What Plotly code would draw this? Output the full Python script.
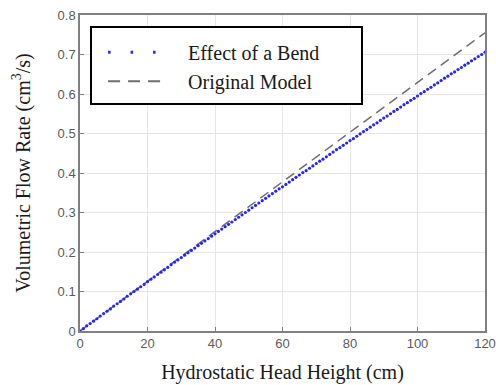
import plotly.graph_objects as go

# Hydrostatic head (cm), 1 cm steps
head_cm = list(range(0, 121))

# Flow rate with the bend in the tube (cm^3/s)
bend_flow = [
    0.000, 0.006, 0.013, 0.019, 0.025, 0.031, 0.038, 0.044, 0.050, 0.056,
    0.063, 0.069, 0.075, 0.081, 0.088, 0.094, 0.100, 0.106, 0.112, 0.118,
    0.125, 0.131, 0.137, 0.143, 0.149, 0.155, 0.161, 0.168, 0.174, 0.180,
    0.186, 0.192, 0.198, 0.204, 0.210, 0.216, 0.222, 0.228, 0.234, 0.240,
    0.246, 0.252, 0.258, 0.264, 0.270, 0.276, 0.282, 0.288, 0.294, 0.300,
    0.306, 0.312, 0.318, 0.324, 0.330, 0.336, 0.342, 0.348, 0.354, 0.360,
    0.365, 0.371, 0.377, 0.383, 0.389, 0.395, 0.401, 0.406, 0.412, 0.418,
    0.424, 0.430, 0.435, 0.441, 0.447, 0.453, 0.459, 0.464, 0.470, 0.476,
    0.482, 0.487, 0.493, 0.499, 0.505, 0.510, 0.516, 0.522, 0.527, 0.533,
    0.539, 0.544, 0.550, 0.556, 0.561, 0.567, 0.573, 0.578, 0.584, 0.589,
    0.595, 0.601, 0.606, 0.612, 0.617, 0.623, 0.628, 0.634, 0.640, 0.645,
    0.651, 0.656, 0.662, 0.667, 0.673, 0.678, 0.684, 0.689, 0.695, 0.700,
    0.706,
]

# Original (straight tube) model: linear in head
model_head = [0, 120]
model_flow = [0.0, 0.755]

x_ticks = [0, 20, 40, 60, 80, 100, 120]
y_ticks = [0, 0.1, 0.2, 0.3, 0.4, 0.5, 0.6, 0.7, 0.8]
y_tick_text = ["0", "0.1", "0.2", "0.3", "0.4", "0.5", "0.6", "0.7", "0.8"]

BLUE = "#2424ff"
GREY = "#6e6e6e"
SERIF = "Liberation Serif, Times New Roman, serif"
NBSP = "\u00a0"

fig = go.Figure()

fig.add_trace(go.Scatter(
    x=model_head, y=model_flow, mode="lines",
    line=dict(color=GREY, width=1.5, dash="10px,6px"),
    showlegend=False, legendgroup="model", hoverinfo="skip",
))
fig.add_trace(go.Scatter(
    x=head_cm, y=bend_flow, mode="markers",
    marker=dict(color=BLUE, size=3.2, line=dict(width=0)),
    showlegend=False, legendgroup="bend",
))

# legend entries
fig.add_trace(go.Scatter(
    x=[None], y=[None], mode="lines", name=NBSP * 4 + "Effect of a Bend",
    line=dict(color=BLUE, width=3, dash="2.5px,20px"), legendgroup="bend",
))
fig.add_trace(go.Scatter(
    x=[None], y=[None], mode="lines", name=NBSP * 4 + "Original Model",
    line=dict(color=GREY, width=2, dash="12px,8px"), legendgroup="model",
))

axis_common = dict(
    showline=True, linecolor="#808080", linewidth=1.5, mirror=True,
    showgrid=True, gridcolor="#e6e6e6", gridwidth=1,
    ticks="inside", ticklen=4, tickcolor="#808080", tickwidth=1,
    zeroline=False, automargin=False,
    tickfont=dict(family="Liberation Sans, Arial, sans-serif", size=13, color="#5a5a5a"),
    title_font=dict(family=SERIF, size=20, color="#1a1a1a"),
)

fig.update_xaxes(
    range=[0, 120], tickvals=x_ticks, ticktext=[str(v) for v in x_ticks],
    title_text="Hydrostatic Head Height (cm)", title_standoff=15,
    **axis_common,
)
fig.update_yaxes(
    range=[0, 0.8], tickvals=y_ticks, ticktext=y_tick_text,
    title_text="Volumetric Flow Rate (cm<sup>3</sup>/s)", title_standoff=22,
    **axis_common,
)

# legend frame
fig.add_shape(
    type="rect", xref="paper", yref="paper",
    x0=(91 - 80) / 405, x1=(362 - 80) / 405,
    y0=(331 - 104) / 316, y1=(331 - 27) / 316,
    line=dict(color="black", width=2), fillcolor="white", layer="above",
)

fig.update_layout(
    width=496, height=385,
    margin=dict(l=80, r=11, t=15, b=54),
    paper_bgcolor="white", plot_bgcolor="white",
    legend=dict(
        x=0.057, y=0.944, xanchor="left", yanchor="top",
        bgcolor="rgba(0,0,0,0)", borderwidth=0,
        font=dict(family=SERIF, size=20, color="#1a1a1a"),
        itemwidth=55, traceorder="normal", tracegroupgap=0,
    ),
)

fig.write_html("out.html")
